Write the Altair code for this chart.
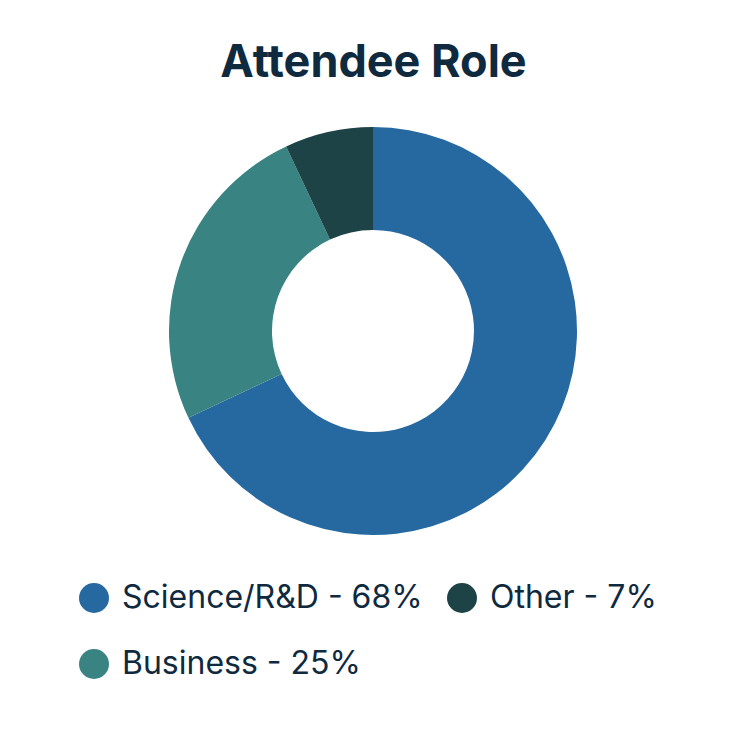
import altair as alt
import pandas as pd

categories = ["Science/R&D", "Business", "Other"]
values = [68, 25, 7]
colors = ["#2668A0", "#3A8383", "#1E4346"]

labels = [f"{c} - {v}%" for c, v in zip(categories, values)]
df = pd.DataFrame({"label": labels, "value": values, "order": list(range(len(values)))})

FONT = "Inter"
TEXT = "#0F2A3F"

chart = alt.Chart(df).mark_arc(outerRadius=204, innerRadius=101, stroke=None).encode(
    theta=alt.Theta("value:Q", stack=True),
    order=alt.Order("order:Q"),
    x=alt.value(365),
    y=alt.value(223),
    color=alt.Color(
        "label:N",
        scale=alt.Scale(domain=labels, range=colors),
        legend=alt.Legend(
            title=None,
            orient="none",
            legendX=70,
            legendY=474,
            columns=2,
            columnPadding=23,
            rowPadding=34,
            symbolType="circle",
            symbolSize=900,
            symbolStrokeWidth=0,
            labelOffset=12,
            labelFont=FONT,
            labelFontSize=32,
            labelColor=TEXT,
            labelLimit=500,
            padding=0,
        ),
    ),
).properties(
    width=731,
    height=619,
    autosize="none",
    padding={"left": 0, "top": 100, "right": 0, "bottom": 0},
    title=alt.TitleParams(
        "Attendee Role",
        font=FONT,
        fontSize=45,
        fontWeight="bold",
        color=TEXT,
        anchor="middle",
        frame="group",
        offset=22,
    ),
).configure_view(stroke=None)

chart.save("out.html", embed_options={"renderer": "svg", "actions": False})
